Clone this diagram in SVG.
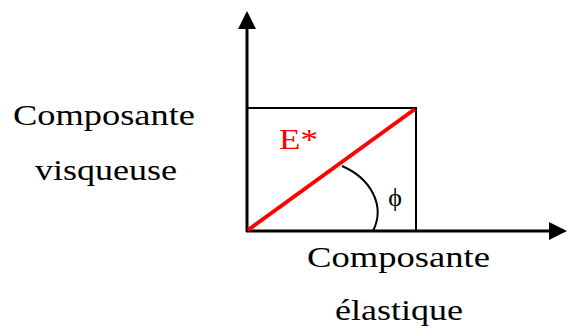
<svg xmlns="http://www.w3.org/2000/svg" width="567" height="331" viewBox="0 0 567 331">
<style>
.lbl{font-family:"Liberation Serif","Times New Roman",serif;font-size:30px;fill:#000}
.axis{stroke:#000;stroke-width:3;fill:none}
.box{stroke:#000;stroke-width:2;fill:none}
</style>
<defs>
<marker id="ah" markerWidth="6" markerHeight="6" refX="5" refY="3" orient="auto" markerUnits="strokeWidth">
<path d="M0,0 L6,3 L0,6 Z" fill="#000"/>
</marker>
</defs>
<rect width="567" height="331" fill="#fff"/>
<g id="connectors">
<line class="axis" x1="247" y1="232" x2="247" y2="14" marker-end="url(#ah)"/>
<line class="axis" x1="246" y1="231" x2="564" y2="231" marker-end="url(#ah)"/>
<polyline class="box" points="247,108 416,108 416,231"/>
<line x1="248" y1="230" x2="415" y2="109" stroke="#f00" stroke-width="4"/>
<path d="M342,166 C370,178 386,205 373,231" stroke="#000" stroke-width="2" fill="none"/>
</g>
<g id="E-star"><text x="279" y="149" font-family="Liberation Serif" font-size="29" fill="#f00" textLength="39" lengthAdjust="spacingAndGlyphs">E*</text></g>
<g id="phi"><text x="395" y="206" text-anchor="middle" font-family="Liberation Serif" font-size="26" fill="#000">ϕ</text></g>
<g id="label-visqueuse">
<text class="lbl" x="13" y="125" textLength="182" lengthAdjust="spacingAndGlyphs">Composante</text>
<text class="lbl" x="35" y="180" textLength="142" lengthAdjust="spacingAndGlyphs">visqueuse</text>
</g>
<g id="label-elastique">
<text class="lbl" x="307" y="267" textLength="183" lengthAdjust="spacingAndGlyphs">Composante</text>
<text class="lbl" x="335" y="320" textLength="128" lengthAdjust="spacingAndGlyphs">élastique</text>
</g>
</svg>
